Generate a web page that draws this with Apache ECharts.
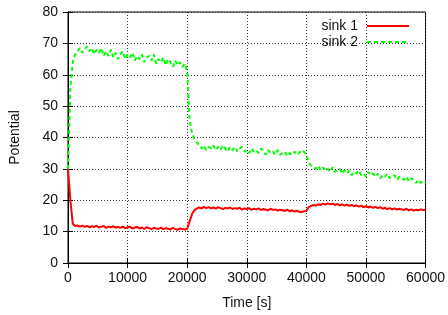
<!DOCTYPE html>
<html><head><meta charset="utf-8">
<script src="https://cdn.jsdelivr.net/npm/echarts@6/dist/echarts.min.js"></script>
<style>html,body{margin:0;padding:0;background:#fff}#c{width:448px;height:315px}</style>
</head><body><div id="c"></div>
<script>
const step = 400; // seconds between samples, starting at 0
const sink1 = [
  30, 20, 12.5, 11.8, 12, 11.6, 11.9, 11.5, 11.8, 11.4,
  11.7, 11.5, 11.9, 11.3, 11.6, 11.8, 11.2, 11.6, 11.4, 11.7,
  11.3, 11.5, 11.2, 11.6, 11.1, 11.4, 11.6, 11.0, 11.3, 11.5,
  11.0, 11.3, 10.9, 11.4, 11.1, 10.8, 11.2, 11.0, 10.9, 11.3,
  10.8, 11.1, 10.9, 10.7, 11.2, 10.8, 10.6, 11.0, 10.8, 10.7,
  10.9, 13.2, 15.5, 16.8, 17.3, 17.7, 17.4, 17.9, 17.5, 17.8,
  17.4, 17.7, 17.3, 17.8, 17.5, 17.2, 17.6, 17.4, 17.7, 17.2,
  17.5, 17.3, 17.6, 17.0, 17.4, 17.2, 17.5, 16.9, 17.3, 17.1,
  17.4, 16.9, 17.2, 17.0, 16.8, 17.3, 16.9, 17.1, 16.7, 17.0,
  16.8, 16.6, 17.0, 16.5, 16.8, 16.4, 16.7, 16.3, 16.2, 16.5,
  16.6, 17.8, 18.2, 18.5, 18.3, 18.7, 18.5, 18.9, 18.6, 19.0,
  18.7, 18.9, 18.5, 18.8, 18.4, 18.7, 18.3, 18.6, 18.2, 18.5,
  18.1, 18.4, 18.0, 18.3, 17.8, 18.1, 17.7, 18.0, 17.6, 17.9,
  17.5, 17.8, 17.3, 17.6, 17.2, 17.5, 17.1, 17.4, 17.0, 17.3,
  17.1, 16.9, 17.3, 16.8, 17.1, 16.7, 17.0, 16.8, 17.1, 16.9,
  17.0
];
const sink2 = [
  30, 56, 64, 66.5, 67.5, 68.5, 67, 68, 69, 67.5,
  68.5, 66.5, 68, 67, 68.5, 66, 67.5, 66, 68, 65.5,
  67, 65, 66.5, 67.5, 65, 66.5, 65.5, 67, 64.5, 66,
  65, 66.5, 64, 65.5, 66, 64.5, 66.5, 63.5, 65, 64,
  65.5, 63, 65, 64, 62.5, 64.5, 63, 64, 62.5, 63.5,
  61, 46, 41.5, 39.5, 38.5, 37.5, 36.5, 37.5, 36, 37,
  36.5, 37.5, 36, 37, 36, 37.5, 36.5, 35.5, 37, 36,
  37, 35.5, 36.5, 37, 35.5, 36, 35, 36.5, 35.5, 36,
  35, 36.5, 35.5, 34.5, 36, 35, 35.5, 34.5, 36, 34.5,
  35, 35.5, 34, 35, 34.5, 35.5, 34.5, 35, 36, 35.5,
  34.5, 32, 31, 30.5, 30, 31, 29.5, 30.5, 29.5, 30,
  29, 30.5, 29, 29.5, 30, 28.5, 29.5, 28.5, 29.5, 28,
  29, 28.5, 29.5, 28, 28.5, 27.5, 29, 28, 28.5, 27.5,
  28.5, 27, 28, 27.5, 28.5, 27, 27.5, 28, 26.5, 27.5,
  27, 26.5, 27.5, 26, 27, 26.5, 25.5, 26.5, 25.5, 26,
  25.5
];
const xTicks = [0, 10000, 20000, 30000, 40000, 50000, 60000];
const yTicks = [0, 10, 20, 30, 40, 50, 60, 70, 80];

const pairs = arr => arr.map((v, i) => [i * step, v]);
const font = 'Liberation Sans, Arial, Helvetica, sans-serif';
const txt = {color: '#111', fontFamily: font, fontSize: 14};
const gridLine = {show: true, lineStyle: {color: '#333', type: [1, 2], width: 1}};

const chart = echarts.init(document.getElementById('c'), null, {renderer: 'canvas'});
chart.setOption({
  animation: false,
  backgroundColor: '#fff',
  grid: {left: 67, right: 21, top: 12, bottom: 49, show: true, borderColor: '#000', borderWidth: 1},
  legend: {
    orient: 'vertical', right: 33, top: 14, align: 'right',
    itemWidth: 42, itemHeight: 10, itemGap: 2,
    itemStyle: {opacity: 0},
    textStyle: Object.assign({}, txt, {padding: [0, 4, 0, 0]}),
    data: ['sink 1', 'sink 2']
  },
  xAxis: [{
    type: 'value', min: xTicks[0], max: xTicks[xTicks.length - 1], interval: 10000,
    name: 'Time [s]', nameLocation: 'middle', nameGap: 33, nameTextStyle: txt,
    axisLine: {show: true, lineStyle: {color: '#000'}},
    axisTick: {show: true, inside: true, length: 5, lineStyle: {color: '#000'}},
    axisLabel: Object.assign({}, txt, {margin: 8, formatter: v => String(v)}),
    splitLine: gridLine
  }, {
    type: 'value', position: 'top', min: xTicks[0], max: xTicks[xTicks.length - 1], interval: 10000,
    axisLine: {show: true, lineStyle: {color: '#000'}},
    axisTick: {show: true, inside: true, length: 5, lineStyle: {color: '#000'}},
    axisLabel: {show: false}, splitLine: {show: false}
  }],
  yAxis: [{
    type: 'value', min: yTicks[0], max: yTicks[yTicks.length - 1], interval: 10,
    name: 'Potential', nameLocation: 'middle', nameGap: 46, nameTextStyle: txt,
    axisLine: {show: true, lineStyle: {color: '#000'}},
    axisTick: {show: true, inside: true, length: 5, lineStyle: {color: '#000'}},
    axisLabel: Object.assign({}, txt, {margin: 10, formatter: v => String(v)}),
    splitLine: gridLine
  }, {
    type: 'value', position: 'right', min: yTicks[0], max: yTicks[yTicks.length - 1], interval: 10,
    axisLine: {show: true, lineStyle: {color: '#000'}},
    axisTick: {show: true, inside: true, length: 5, lineStyle: {color: '#000'}},
    axisLabel: {show: false}, splitLine: {show: false}
  }],
  series: [{
    name: 'sink 1', type: 'line', data: pairs(sink1), symbol: 'none',
    lineStyle: {color: '#ff0000', width: 2}, itemStyle: {color: '#ff0000'}
  }, {
    name: 'sink 2', type: 'line', data: pairs(sink2), symbol: 'none',
    lineStyle: {color: '#00ff00', width: 2, type: [4, 3]}, itemStyle: {color: '#00ff00'}
  }]
});
</script>
</body></html>
